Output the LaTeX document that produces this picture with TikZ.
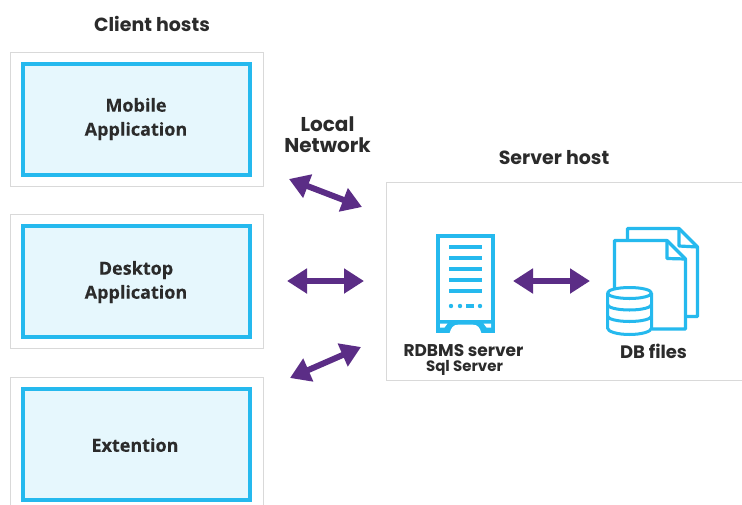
\documentclass[tikz,border=0pt]{standalone}
\usepackage{fontspec}
\setmainfont{Poppins}
\newfontfamily\boxfont{Open Sans}[BoldFeatures={FakeBold=0.25}]
\usetikzlibrary{arrows.meta}
\definecolor{cyanline}{HTML}{25B9EE}
\definecolor{cyanfill}{HTML}{E6F7FD}
\definecolor{purp}{HTML}{5B2D86}
\definecolor{greyline}{HTML}{D9D9D9}
\definecolor{ink}{HTML}{2B2B2B}
\tikzset{
  outerbox/.style={draw=greyline,line width=1pt,fill=white},
  innerbox/.style={draw=cyanline,line width=3.6pt,fill=cyanfill},
  icon/.style={draw=cyanline,line width=3.2pt,line join=round},
  iconbar/.style={draw=cyanline,line width=4.3pt},
  dbl/.style={draw=purp,fill=purp,line width=6pt,{Triangle[length=20pt,width=24pt,fill=purp]}-{Triangle[length=20pt,width=24pt,fill=purp]}},
  head/.style={text=ink,font=\fontsize{19}{22}\selectfont\bfseries,inner sep=0pt,align=center},
  nethead/.style={text=ink,font=\fontsize{20}{21}\selectfont\bfseries,inner sep=0pt,align=center},
  boxtext/.style={text=ink,font=\boxfont\fontsize{18}{24}\selectfont\bfseries,inner sep=0pt,align=center},
  small/.style={text=ink,font=\fontsize{17}{18}\selectfont\bfseries,inner sep=0pt},
  smaller/.style={text=ink,font=\fontsize{15}{16}\selectfont\bfseries,inner sep=0pt},
  dbtext/.style={text=ink,font=\fontsize{18}{18}\selectfont\bfseries,inner sep=0pt}
}
\begin{document}
\begin{tikzpicture}[x=1pt,y=-1pt]
\useasboundingbox (0,0) rectangle (742,504);
\clip (0,0) rectangle (742,504);
% outer boxes
\draw[outerbox] (10.5,52.5) rectangle (263.5,186.5);
\draw[outerbox] (10.5,214.5) rectangle (263.5,348.5);
\draw[outerbox] (10.5,377.5) rectangle (263.5,511);
\draw[outerbox] (760,182.5) -- (386.5,182.5) -- (386.5,380) -- (760,380);
% inner boxes
\draw[innerbox] (23,64) rectangle (250,175);
\draw[innerbox] (23,226) rectangle (250,337);
\draw[innerbox] (23,389) rectangle (250,500);
% labels
\node[head] (clients) at (152,24) {Client hosts};
\node[nethead] (network) at (327.5,135) {Local\\Network};
\node[head] (serverh) at (554,158) {Server host};
\node[boxtext] (mobile) at (136,119) {Mobile\\Application};
\node[boxtext] (desktop) at (136,282) {Desktop\\Application};
\node[boxtext] (ext) at (135,445) {Extention};
\node[small] (rdbms) at (463.5,351) {RDBMS server};
\node[smaller] (sql) at (464.5,368) {Sql Server};
\node[dbtext] (dbf) at (653.5,351) {DB files};
% connectors
\coordinate (a1) at (289,179); \coordinate (a2) at (362,207);
\coordinate (b1) at (287,281); \coordinate (b2) at (364,281);
\coordinate (c1) at (290,378); \coordinate (c2) at (361,347);
\coordinate (d1) at (513,281); \coordinate (d2) at (590,281);
\draw[dbl] (a1) -- (a2);
\draw[dbl] (b1) -- (b2);
\draw[dbl] (c1) -- (c2);
\draw[dbl] (d1) -- (d2);
% server icon
\draw[draw=cyanline,line width=4.2pt] (438.1,236.1) rectangle (492.9,331);
\fill[cyanline] (436,320) rectangle (495,333);
\fill[white] (440,323.5) -- (447.5,323.5) -- (444.5,327.5) -- (440,327.5) -- cycle;
\fill[white] (491,323.5) -- (483.5,323.5) -- (486.5,327.5) -- (491,327.5) -- cycle;
\fill[white] (449.5,333.5) .. controls (451,328) and (453,324.7) .. (458,324.7) -- (473,324.7) .. controls (478,324.7) and (480,328) .. (481.5,333.5) -- cycle;
\foreach \yy in {247,258,269,280,291}
  \draw[iconbar] (449,\yy) -- (482,\yy);
\fill[cyanline] (451,306) circle (2.2pt) (460,306) circle (2.2pt) (480,306) circle (2.2pt);
\fill[cyanline] (466,304) rectangle (474,308);
% document icon, back page
\draw[icon] (627.5,241) -- (627.5,228.5) -- (679,228.5) -- (697.5,247) -- (697.5,316.5) -- (686,316.5);
\draw[icon] (679,228.5) -- (679,246) -- (697.5,247);
% front page
\draw[icon] (614.5,288) -- (614.5,240.5) -- (667,240.5) -- (685.5,259) -- (685.5,329) -- (652,329);
\draw[icon] (667,240.5) -- (667,258.5) -- (685.5,259);
% cylinder
\draw[icon,line width=3pt,fill=white] (607.5,293) -- (607.5,328) arc[start angle=180,end angle=0,x radius=22,y radius=6.5] -- (651.5,293);
\draw[icon,line width=3pt,fill=white] (629.5,293) ellipse[x radius=22,y radius=5.5];
\draw[icon,line width=3pt] (607.5,304.5) arc[start angle=180,end angle=0,x radius=22,y radius=5.5];
\draw[icon,line width=3pt] (607.5,316) arc[start angle=180,end angle=0,x radius=22,y radius=5.5];
\end{tikzpicture}
\end{document}
